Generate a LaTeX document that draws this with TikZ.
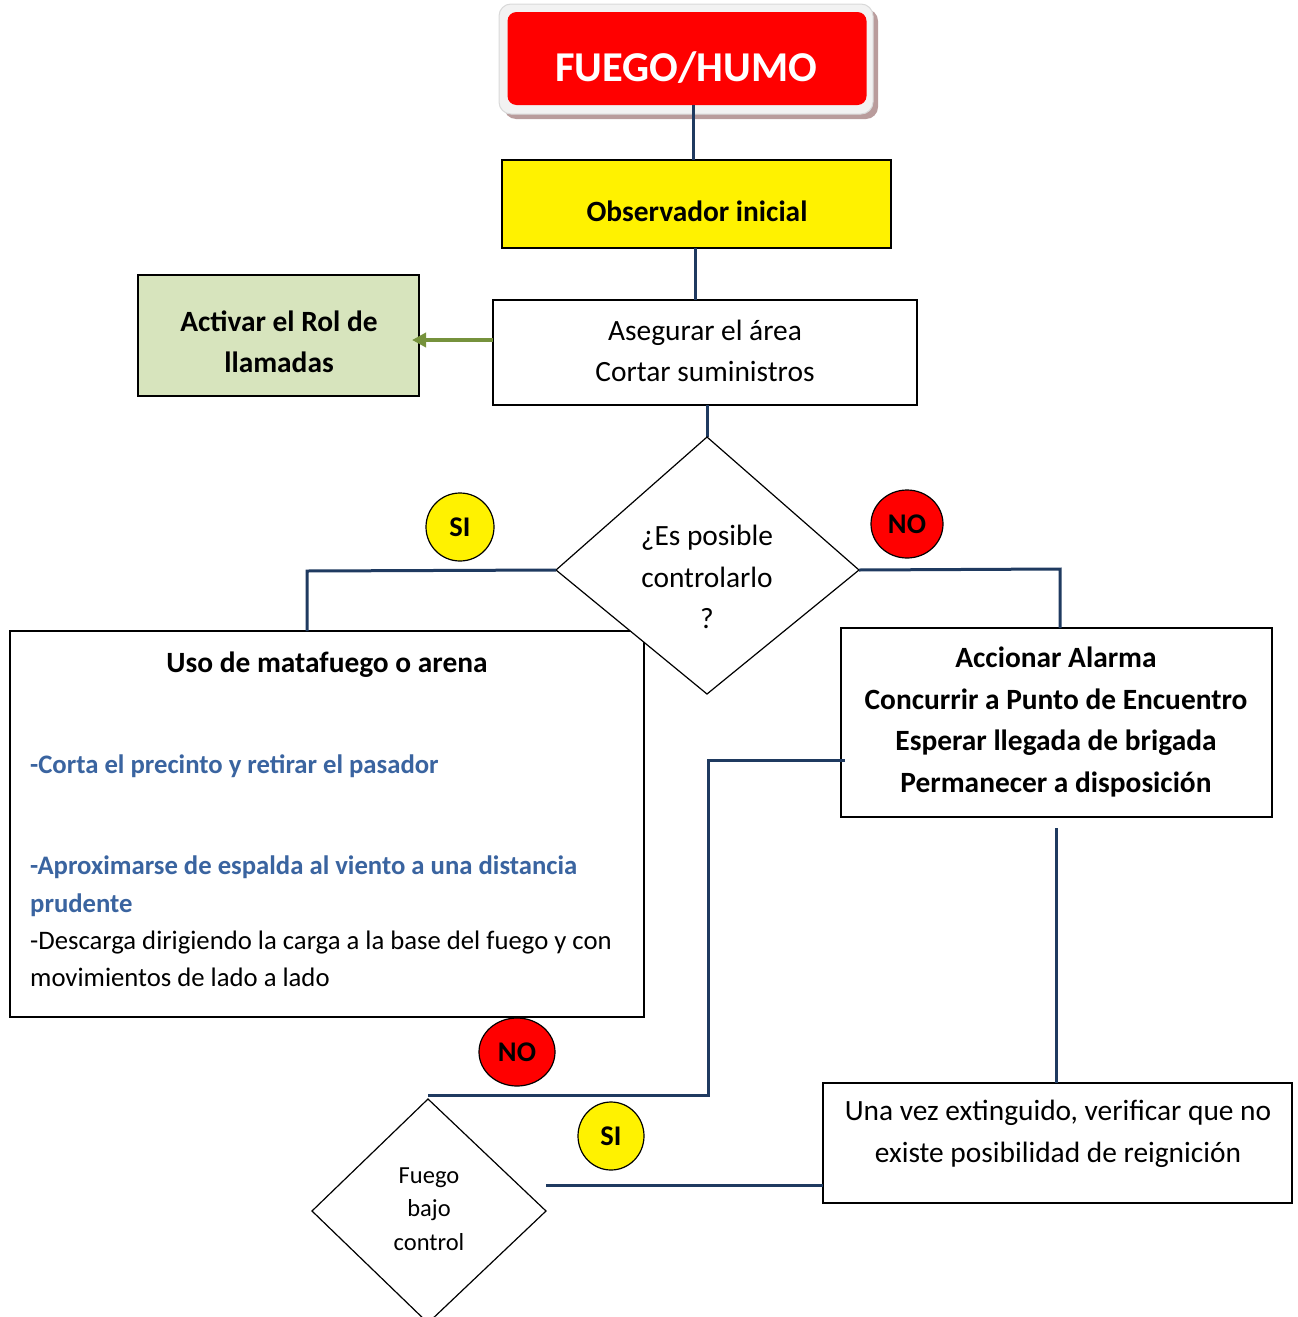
\documentclass[tikz,border=0pt]{standalone}
\usepackage{fontspec}
\setmainfont{Carlito}
\usetikzlibrary{shapes.geometric,arrows.meta}
\definecolor{conn}{HTML}{1F3A60}
\definecolor{greenfill}{HTML}{D7E4BD}
\definecolor{greenarrow}{HTML}{76923C}
\definecolor{bluetxt}{HTML}{3A64A0}
\definecolor{shadowc}{HTML}{B99C9C}
\tikzset{
  conline/.style={draw=conn,line width=3pt},
  boxn/.style={draw=black,line width=1.3pt,rectangle,inner sep=0pt},
  dia/.style={draw=black,line width=1.2pt,fill=white},
  badge/.style={ellipse,draw=black,line width=1.2pt,inner sep=0pt,font=\fontsize{28.5}{30}\selectfont\bfseries},
  txt/.style={font=\fontsize{29.4}{41.5}\selectfont,align=center,inner sep=0pt},
  btxt/.style={font=\fontsize{29.4}{41.5}\selectfont\bfseries,align=center,inner sep=0pt},
  stxt/.style={font=\fontsize{26.7}{30}\selectfont,inner sep=0pt,anchor=mid west},
  sbtxt/.style={font=\fontsize{26.7}{30}\selectfont\bfseries,text=bluetxt,inner sep=0pt,anchor=mid west},
}
\begin{document}
\begin{tikzpicture}[x=1pt,y=-1pt]
\useasboundingbox (0,0) rectangle (1298,1317);
% FUEGO/HUMO
\fill[shadowc,rounded corners=12pt] (504,9) rectangle (878,119);
\filldraw[fill=white!95!black,draw=white!85!black,line width=1pt,rounded corners=12pt] (499,4) rectangle (873,114);
\node[fill=red,rounded corners=9pt,minimum width=359pt,minimum height=93pt,inner sep=0pt] (fuego) at (687,58.5) {};
\node[font=\fontsize{42.5}{44}\selectfont\bfseries,text=white] (fuegot) at (686,68) {FUEGO/HUMO};
% Observador
\node[boxn,fill=yellow,minimum width=389pt,minimum height=88pt] (obs) at (696.5,204) {};
\node[btxt] (obst) at (697,211) {Observador inicial};
% Asegurar
\node[boxn,fill=white,minimum width=424pt,minimum height=105pt] (aseg) at (705,352.5) {};
\node[txt] (asegt) at (705,351) {Asegurar el área\\Cortar suministros};
% Activar
\node[boxn,fill=greenfill,minimum width=281pt,minimum height=121pt] (act) at (278.5,335.5) {};
\node[btxt] (actt) at (279,342) {Activar el Rol de\\llamadas};
% connectors top
\coordinate (c1) at (693,105);
\coordinate (c2) at (693,160);
\draw[conline] (c1) -- (c2);
\coordinate (c3) at (695,248);
\coordinate (c4) at (695,300);
\draw[conline] (c3) -- (c4);
\coordinate (ga) at (493,340);
\coordinate (gb) at (412,340);
\draw[draw=greenarrow,line width=4pt,-{Triangle[length=14pt,width=14pt]}] (ga) -- (gb);
\coordinate (c5) at (707,405);
\coordinate (c6) at (707,437);
\draw[conline] (c5) -- (c6);
% Uso box
\node[boxn,fill=white,minimum width=634pt,minimum height=386pt] (uso) at (327,824) {};
\node[btxt] (usot) at (327,665) {Uso de matafuego o arena};
\node[sbtxt] (u1) at (30,771) {-Corta el precinto y retirar el pasador};
\node[sbtxt] (u2) at (30,872) {-Aproximarse de espalda al viento a una distancia};
\node[sbtxt] (u3) at (30,910) {prudente};
\node[stxt] (u4) at (30,947) {-Descarga dirigiendo la carga a la base del fuego y con};
\node[stxt] (u5) at (30,984) {movimientos de lado a lado};
% Accionar box
\node[boxn,fill=white,minimum width=431pt,minimum height=189pt] (acc) at (1056.5,722.5) {};
\node[btxt] (acct) at (1056,722) {Accionar Alarma\\Concurrir a Punto de Encuentro\\Esperar llegada de brigada\\Permanecer a disposición};
% Diamond 1
\coordinate (dt) at (707,437);
\coordinate (dl) at (556,570);
\coordinate (dr) at (859,570);
\coordinate (db) at (707,694);
\filldraw[dia] (dt) -- (dr) -- (db) -- (dl) -- cycle;
\node[txt] (diat) at (707,577) {¿Es posible\\controlarlo\\?};
% connectors from diamond
\coordinate (l1) at (307,571);
\coordinate (l2) at (307,631);
\draw[conline] (dl) -- (l1) -- (l2);
\coordinate (r1) at (1060,569);
\coordinate (r2) at (1060,628);
\draw[conline] (dr) -- (r1) -- (r2);
% badges
\node[badge,fill=yellow,minimum width=68pt,minimum height=68pt] (si1) at (460,527) {SI};
\node[badge,fill=red,minimum width=72pt,minimum height=68pt] (no1) at (907,524) {NO};
% connector from Accionar to diamond2
\coordinate (a1) at (845,760);
\coordinate (a2) at (708,760);
\coordinate (a3) at (708,1095);
\coordinate (a4) at (428,1095);
\draw[conline] (a1) -- (a2) -- (a3) -- (a4);
\node[badge,fill=red,minimum width=76pt,minimum height=68pt] (no2) at (517,1052) {NO};
% Diamond 2
\coordinate (et) at (428,1099);
\coordinate (el) at (312,1211);
\coordinate (er) at (546,1211);
\coordinate (eb) at (428,1323);
\filldraw[dia] (et) -- (er) -- (eb) -- (el) -- cycle;
\node[font=\fontsize{24.5}{33.5}\selectfont,align=center,inner sep=0pt] (e2t) at (429,1209) {Fuego\\bajo\\control};
% Una vez box
\node[boxn,fill=white,minimum width=469pt,minimum height=120pt] (una) at (1057.5,1143) {};
\node[txt] (unat) at (1058,1134) {Una vez extinguido, verificar que no\\existe posibilidad de reignición};
\coordinate (s1) at (546,1185);
\coordinate (s2) at (823,1185);
\draw[conline] (s1) -- (s2);
\node[badge,fill=yellow,minimum width=66pt,minimum height=68pt] (si2) at (611,1136) {SI};
\coordinate (v1) at (1056,828);
\coordinate (v2) at (1056,1083);
\draw[conline] (v1) -- (v2);
\end{tikzpicture}
\end{document}
